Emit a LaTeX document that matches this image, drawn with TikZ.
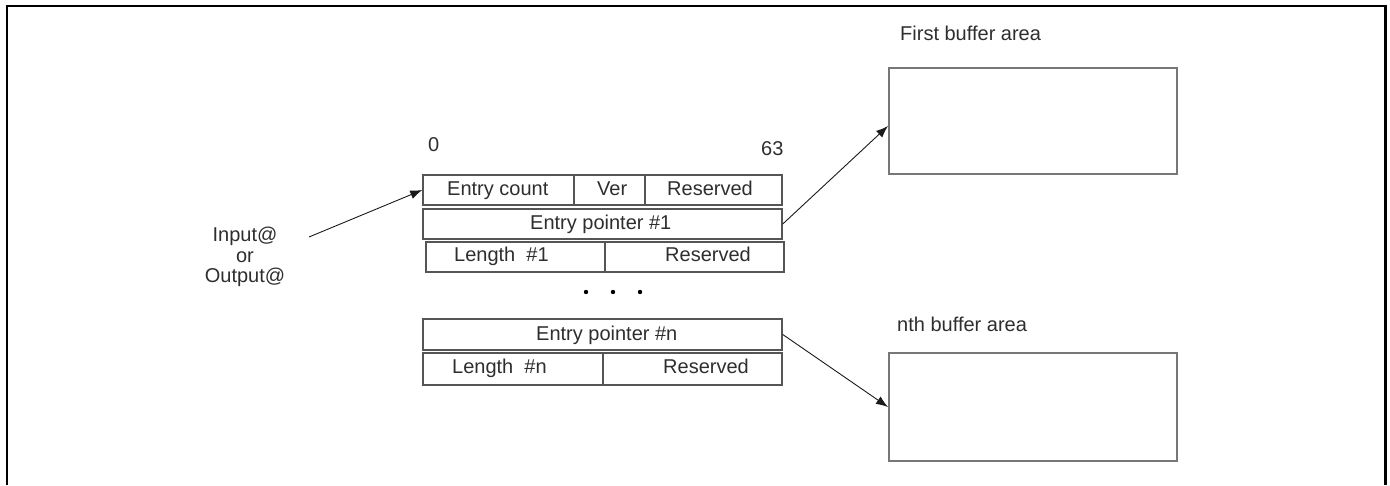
\documentclass[tikz,border=0pt]{standalone}
\usepackage{fontspec}
\setmainfont{Liberation Sans}
\usetikzlibrary{arrows.meta}
\definecolor{cellgray}{HTML}{555555}
\definecolor{bufgray}{HTML}{777777}
\definecolor{txtgray}{HTML}{2E2E2E}
\definecolor{arrowblack}{HTML}{1A1A1A}
\begin{document}
\begin{tikzpicture}[x=1pt,y=-1pt,
  font=\fontsize{20}{20.5}\selectfont,
  cell/.style={draw=cellgray, line width=1.5pt, inner sep=0pt},
  lbl/.style={text=txtgray, inner sep=0pt, anchor=base west},
  buffer/.style={draw=bufgray, line width=2pt, inner sep=0pt},
  ptr/.style={draw=arrowblack, line width=0.9pt, -{Latex[length=12pt,width=9pt]}},
  frameline/.style={draw=black, line width=2.6pt},
]
\useasboundingbox (0,0) rectangle (1390,485);

% outer frame (open at the bottom)
\draw[frameline] (7,485) -- (7,6) -- (1385.5,6) -- (1385.5,485);

% bit positions
\node[lbl] (b0)  at (428,151) {0};
\node[lbl] (b63) at (761,155) {63};

% header row
\node[cell, minimum width=151pt, minimum height=30pt] (ec)   at (498.5,190) {};
\node[cell, minimum width=71pt,  minimum height=30pt] (ver)  at (609.5,190) {};
\node[cell, minimum width=137pt, minimum height=30pt] (res1) at (713.5,190) {};
\node[lbl] (tec)   at (447,195) {Entry count};
\node[lbl] (tver)  at (597,195) {Ver};
\node[lbl] (tres1) at (667,195) {Reserved};

% first entry
\node[cell, minimum width=359pt, minimum height=30pt] (p1) at (602.5,224) {};
\node[lbl] (tp1) at (530,229) {Entry pointer \#1};
\node[cell, minimum width=179pt, minimum height=30pt] (len1) at (515.5,257) {};
\node[cell, minimum width=179pt, minimum height=30pt] (res2) at (694.5,257) {};
\node[lbl] (tlen1) at (454,261) {Length\ \ \#1};
\node[lbl] (tres2) at (665,261) {Reserved};

% ellipsis
\foreach \dx in {586,613,640} \fill[black] (\dx,292) circle (2.2pt);

% n-th entry
\node[cell, minimum width=359pt, minimum height=31pt] (pn) at (602.5,334.5) {};
\node[lbl] (tpn) at (536,340) {Entry pointer \#n};
\node[cell, minimum width=180pt, minimum height=32pt] (lenn) at (513,369) {};
\node[cell, minimum width=179pt, minimum height=32pt] (resn) at (692.5,369) {};
\node[lbl] (tlenn) at (452,373) {Length\ \ \#n};
\node[lbl] (tresn) at (663,373) {Reserved};

% buffer areas
\node[lbl] (tb1) at (900,40) {First buffer area};
\node[buffer, minimum width=288pt, minimum height=106pt] (buf1) at (1033,121) {};
\node[lbl] (tbn) at (897,331) {nth buffer area};
\node[buffer, minimum width=288pt, minimum height=108pt] (bufn) at (1033,407) {};

% address label
\node[text=txtgray, inner sep=0pt, align=center] (addr) at (245,257) {Input@\\or\\Output@};
\coordinate (addrtail) at (309,237);

% connectors
\draw[ptr] (addrtail) -- (ec.west);
\draw[ptr] (p1.east) -- ([yshift=-5pt]buf1.west);
\draw[ptr] (pn.east) -- (bufn.west);
\end{tikzpicture}
\end{document}
